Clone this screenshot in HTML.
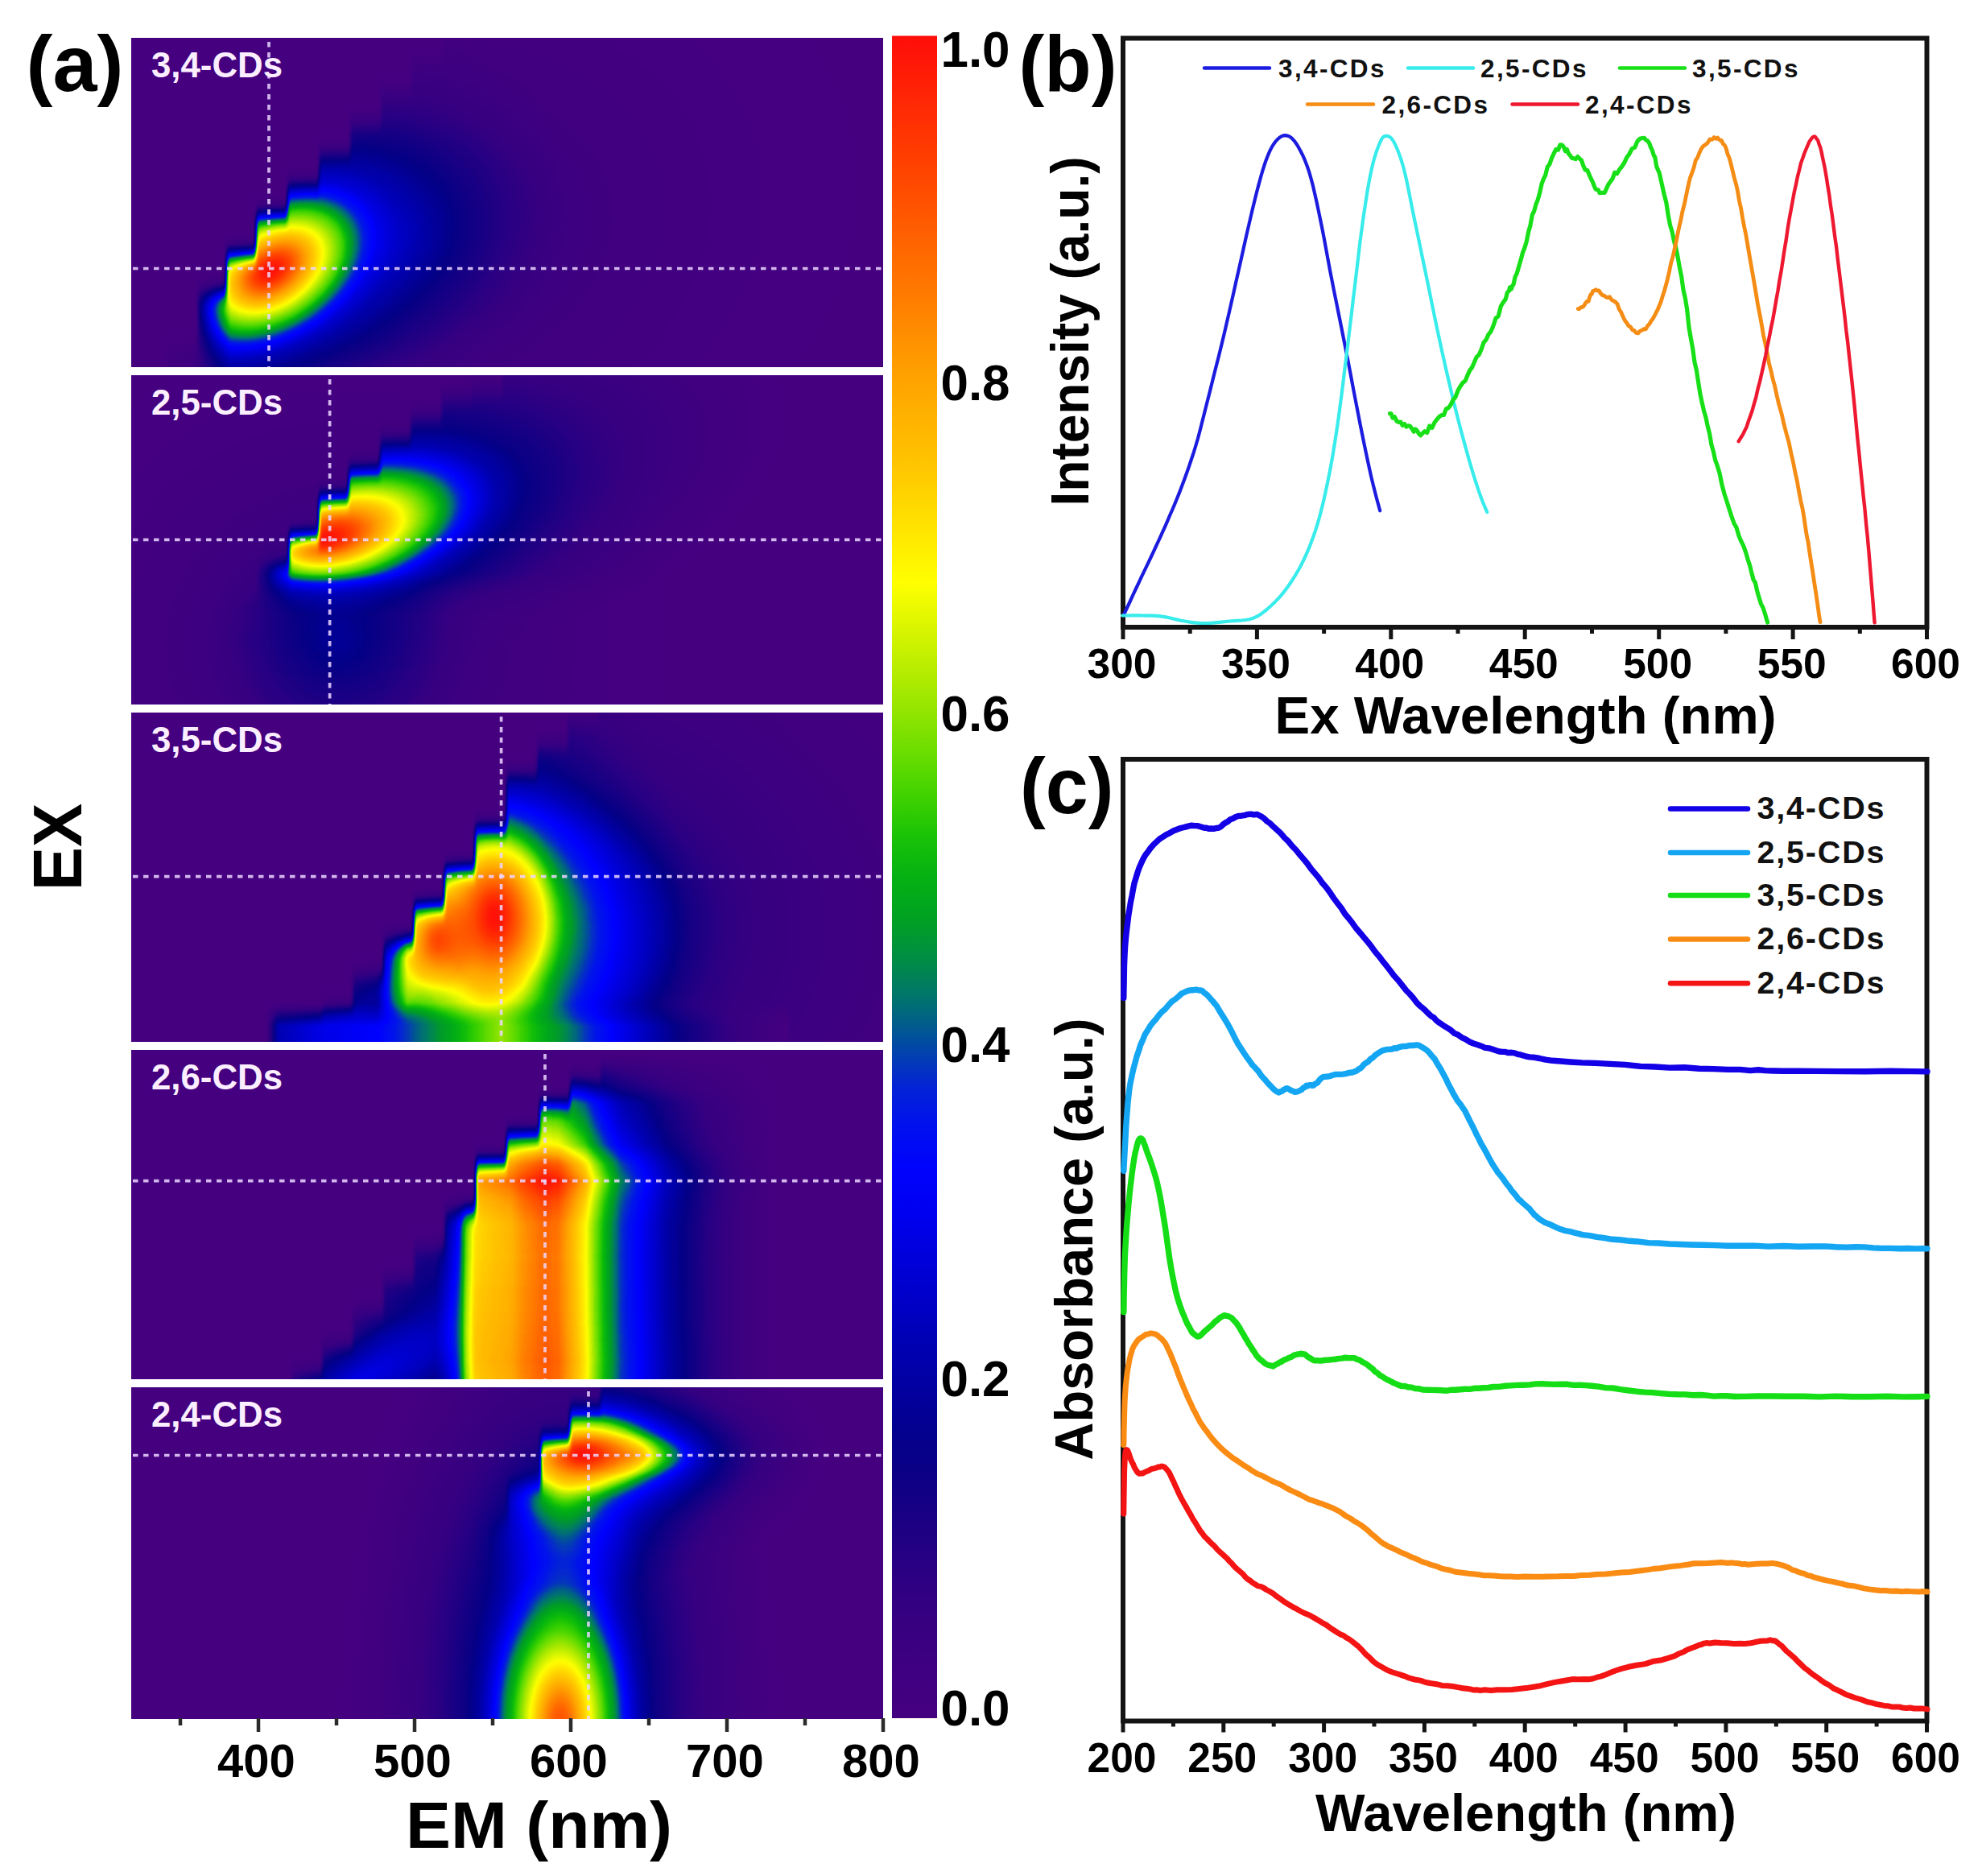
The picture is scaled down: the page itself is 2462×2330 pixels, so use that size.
<!DOCTYPE html>
<html lang="en"><head><meta charset="utf-8"><title>Figure: EEM maps, excitation and absorbance spectra of CDs</title>
<style>html,body{margin:0;padding:0;background:#fff}svg{display:block}text{font-family:"Liberation Sans", Arial, Helvetica, sans-serif}</style>
</head><body>
<svg width="2462" height="2330" viewBox="0 0 2462 2330">
<rect width="2462" height="2330" fill="#fff"/>
<defs>
<filter id="cm" x="0" y="0" width="1" height="1" filterUnits="objectBoundingBox" color-interpolation-filters="sRGB">
<feGaussianBlur stdDeviation="1.6 1.6"/>
<feComponentTransfer>
<feFuncR type="table" tableValues="0.271 0.261 0.252 0.242 0.232 0.223 0.213 0.204 0.183 0.162 0.141 0.120 0.099 0.078 0.058 0.037 0.016 0.013 0.011 0.009 0.007 0.004 0.002 0.000 0.000 0.000 0.000 0.000 0.000 0.000 0.000 0.000 0.000 0.000 0.000 0.000 0.000 0.008 0.016 0.016 0.010 0.003 0.000 0.000 0.000 0.000 0.000 0.000 0.000 0.000 0.019 0.038 0.077 0.137 0.198 0.261 0.327 0.392 0.456 0.520 0.583 0.647 0.701 0.756 0.810 0.864 0.919 0.973 1.000 1.000 1.000 1.000 1.000 1.000 1.000 1.000 1.000 1.000 1.000 1.000 1.000 1.000 1.000 1.000 1.000 1.000 1.000 1.000 1.000 1.000 1.000 1.000 1.000 1.000 1.000 1.000 1.000 1.000 1.000 1.000 1.000"/>
<feFuncG type="table" tableValues="0.000 0.000 0.000 0.000 0.000 0.000 0.000 0.000 0.000 0.000 0.000 0.000 0.000 0.000 0.000 0.000 0.000 0.000 0.000 0.000 0.000 0.000 0.000 0.000 0.000 0.000 0.000 0.000 0.000 0.000 0.000 0.000 0.000 0.020 0.039 0.059 0.078 0.118 0.157 0.212 0.284 0.356 0.416 0.463 0.510 0.549 0.588 0.620 0.643 0.667 0.695 0.723 0.751 0.779 0.807 0.828 0.845 0.863 0.875 0.886 0.898 0.910 0.924 0.938 0.951 0.965 0.979 0.993 0.983 0.950 0.917 0.884 0.851 0.817 0.784 0.758 0.732 0.706 0.680 0.654 0.627 0.596 0.565 0.533 0.502 0.471 0.439 0.410 0.381 0.352 0.323 0.294 0.264 0.235 0.210 0.184 0.158 0.132 0.106 0.081 0.055"/>
<feFuncB type="table" tableValues="0.502 0.503 0.504 0.505 0.506 0.508 0.509 0.510 0.512 0.513 0.515 0.517 0.519 0.520 0.522 0.524 0.525 0.554 0.583 0.611 0.640 0.668 0.697 0.725 0.756 0.786 0.817 0.847 0.878 0.908 0.939 0.969 1.000 0.980 0.961 0.941 0.922 0.867 0.812 0.739 0.647 0.556 0.478 0.416 0.353 0.275 0.196 0.145 0.122 0.098 0.075 0.051 0.032 0.018 0.004 0.000 0.000 0.000 0.000 0.000 0.000 0.000 0.000 0.000 0.000 0.000 0.000 0.000 0.000 0.000 0.000 0.000 0.000 0.000 0.000 0.000 0.000 0.000 0.000 0.000 0.000 0.000 0.000 0.000 0.000 0.000 0.000 0.000 0.000 0.000 0.000 0.000 0.000 0.000 0.006 0.011 0.017 0.022 0.028 0.034 0.039"/>
<feFuncA type="linear" slope="0" intercept="1"/>
</feComponentTransfer></filter>
<filter id="vb" x="-0.1" y="-0.2" width="1.2" height="1.4" color-interpolation-filters="sRGB"><feGaussianBlur stdDeviation="1.5 11"/></filter>
<radialGradient id="g"><stop offset="0.0000" stop-color="#fff" stop-opacity="1.0"/><stop offset="0.0333" stop-color="#fff" stop-opacity="0.975"/><stop offset="0.0667" stop-color="#fff" stop-opacity="0.91"/><stop offset="0.1083" stop-color="#fff" stop-opacity="0.81"/><stop offset="0.1667" stop-color="#fff" stop-opacity="0.675"/><stop offset="0.2083" stop-color="#fff" stop-opacity="0.58"/><stop offset="0.2467" stop-color="#fff" stop-opacity="0.5"/><stop offset="0.2833" stop-color="#fff" stop-opacity="0.39"/><stop offset="0.3167" stop-color="#fff" stop-opacity="0.3"/><stop offset="0.3667" stop-color="#fff" stop-opacity="0.21"/><stop offset="0.4333" stop-color="#fff" stop-opacity="0.15"/><stop offset="0.5333" stop-color="#fff" stop-opacity="0.1"/><stop offset="0.6667" stop-color="#fff" stop-opacity="0.055"/><stop offset="0.8333" stop-color="#fff" stop-opacity="0.02"/><stop offset="1.0000" stop-color="#fff" stop-opacity="0.0"/></radialGradient>
<linearGradient id="cbar" x1="0" y1="0" x2="0" y2="1"><stop offset="0.000" stop-color="#ff0e0a"/><stop offset="0.025" stop-color="#ff1e06"/><stop offset="0.050" stop-color="#ff2f03"/><stop offset="0.075" stop-color="#ff4000"/><stop offset="0.100" stop-color="#ff5200"/><stop offset="0.125" stop-color="#ff6500"/><stop offset="0.150" stop-color="#ff7800"/><stop offset="0.175" stop-color="#ff8c00"/><stop offset="0.200" stop-color="#ffa000"/><stop offset="0.225" stop-color="#ffb100"/><stop offset="0.250" stop-color="#ffc100"/><stop offset="0.275" stop-color="#ffd500"/><stop offset="0.300" stop-color="#ffea00"/><stop offset="0.325" stop-color="#ffff00"/><stop offset="0.350" stop-color="#dcf600"/><stop offset="0.375" stop-color="#baed00"/><stop offset="0.400" stop-color="#95e500"/><stop offset="0.425" stop-color="#6cde00"/><stop offset="0.450" stop-color="#43d300"/><stop offset="0.475" stop-color="#1bc306"/><stop offset="0.500" stop-color="#05b113"/><stop offset="0.525" stop-color="#00a122"/><stop offset="0.550" stop-color="#008c46"/><stop offset="0.575" stop-color="#007072"/><stop offset="0.600" stop-color="#0249a5"/><stop offset="0.625" stop-color="#0323d6"/><stop offset="0.650" stop-color="#000ff0"/><stop offset="0.675" stop-color="#0002fd"/><stop offset="0.700" stop-color="#0000ef"/><stop offset="0.725" stop-color="#0000dc"/><stop offset="0.750" stop-color="#0000c9"/><stop offset="0.775" stop-color="#0000b5"/><stop offset="0.800" stop-color="#0200a3"/><stop offset="0.825" stop-color="#030091"/><stop offset="0.850" stop-color="#090086"/><stop offset="0.875" stop-color="#170084"/><stop offset="0.900" stop-color="#240083"/><stop offset="0.925" stop-color="#310082"/><stop offset="0.950" stop-color="#390081"/><stop offset="0.975" stop-color="#3f0081"/><stop offset="1.000" stop-color="#450080"/></linearGradient>
</defs>
<clipPath id="pc0"><rect x="163" y="47" width="934" height="409"/></clipPath>
<linearGradient id="rp0" gradientUnits="userSpaceOnUse" x1="238" y1="0" x2="286" y2="0"><stop offset="0" stop-color="#000" stop-opacity="0.850"/><stop offset="0.5" stop-color="#000" stop-opacity="0.383"/><stop offset="1" stop-color="#000" stop-opacity="0"/></linearGradient>
<mask id="sm0" maskUnits="userSpaceOnUse" x="63" y="-53" width="1134" height="609"><polygon points="207,536 207,432 245,432 245,364 281,364 281,316 318,316 318,266 357,266 357,228 396,228 396,188 435,188 435,150 473,150 473,112 511,112 511,74 549,74 549,42 587,42 587,-33 1177,-33 1177,536" fill="#fff" filter="url(#vb)"/><rect x="63" y="-53" width="223" height="609" fill="url(#rp0)"/></mask>
<g clip-path="url(#pc0)"><g filter="url(#cm)">
<rect x="143" y="27" width="974" height="449" fill="#000"/>
<g mask="url(#sm0)">
<ellipse cx="500" cy="300" rx="660.0" ry="480.0" fill="url(#g)" fill-opacity="0.12" transform="rotate(-15 500 300)"/>
<radialGradient id="g1" href="#g" fx="0.4867" fy="0.4880"/><ellipse cx="348" cy="335" rx="390.0" ry="252.0" fill="url(#g1)" fill-opacity="1.0" transform="rotate(-35 348 335)"/>
</g>
</g></g>
<clipPath id="pc1"><rect x="163" y="466" width="934" height="409"/></clipPath>
<linearGradient id="rp1" gradientUnits="userSpaceOnUse" x1="325" y1="0" x2="362" y2="0"><stop offset="0" stop-color="#000" stop-opacity="0.750"/><stop offset="0.5" stop-color="#000" stop-opacity="0.338"/><stop offset="1" stop-color="#000" stop-opacity="0"/></linearGradient>
<linearGradient id="vr1" gradientUnits="userSpaceOnUse" x1="0" y1="712" x2="0" y2="765"><stop offset="0" stop-color="#000" stop-opacity="0"/><stop offset="0.5" stop-color="#000" stop-opacity="0.385"/><stop offset="1" stop-color="#000" stop-opacity="0.700"/></linearGradient>
<mask id="sm1" maskUnits="userSpaceOnUse" x="63" y="366" width="1134" height="609"><polygon points="283,955 283,752 321,752 321,707 359,707 359,668 396,668 396,618 433,618 433,581 472,581 472,544 510,544 510,517 548,517 548,490 586,490 586,482 624,482 624,386 1177,386 1177,955" fill="#fff" filter="url(#vb)"/><rect x="63" y="366" width="299" height="609" fill="url(#rp1)"/><rect x="63" y="712" width="1134" height="263" fill="url(#vr1)"/></mask>
<g clip-path="url(#pc1)"><g filter="url(#cm)">
<rect x="143" y="446" width="974" height="449" fill="#000"/>
<g mask="url(#sm1)">
<radialGradient id="g2" href="#g" fx="0.3379" fy="0.5743"/><ellipse cx="536" cy="600" rx="456.0" ry="228.0" fill="url(#g2)" fill-opacity="1.0" transform="rotate(-15 536 600)"/>
</g>
<ellipse cx="420" cy="800" rx="450.0" ry="420.0" fill="url(#g)" fill-opacity="0.17"/>
</g></g>
<clipPath id="pc2"><rect x="163" y="885" width="934" height="409"/></clipPath>
<linearGradient id="rp2" gradientUnits="userSpaceOnUse" x1="468" y1="0" x2="506" y2="0"><stop offset="0" stop-color="#000" stop-opacity="0.700"/><stop offset="0.5" stop-color="#000" stop-opacity="0.315"/><stop offset="1" stop-color="#000" stop-opacity="0"/></linearGradient>
<mask id="sm2" maskUnits="userSpaceOnUse" x="63" y="785" width="1134" height="609"><polygon points="324,1374 324,1322 362,1322 362,1287 400,1287 400,1251 438,1251 438,1210 476,1210 476,1169 514,1169 514,1126 552,1126 552,1080 590,1080 590,1028 629,1028 629,960 667,960 667,924 705,924 705,892 743,892 743,805 1177,805 1177,1374" fill="#fff" filter="url(#vb)"/><rect x="63" y="785" width="443" height="609" fill="url(#rp2)"/></mask>
<g clip-path="url(#pc2)"><g filter="url(#cm)">
<rect x="143" y="865" width="974" height="449" fill="#000"/>
<g mask="url(#sm2)">
<ellipse cx="644" cy="1150" rx="690.0" ry="528.0" fill="url(#g)" fill-opacity="0.4"/>
<ellipse cx="600" cy="1258" rx="330.0" ry="168.0" fill="url(#g)" fill-opacity="0.3"/>
<ellipse cx="440" cy="1262" rx="420.0" ry="144.0" fill="url(#g)" fill-opacity="0.55" transform="rotate(-40 440 1262)"/>
<radialGradient id="g3" href="#g" fx="0.5000" fy="0.4892"/><ellipse cx="615" cy="1146" rx="240.0" ry="372.0" fill="url(#g3)" fill-opacity="1.0"/>
<ellipse cx="543" cy="1168" rx="156.0" ry="204.0" fill="url(#g)" fill-opacity="0.8"/>
</g>
<linearGradient id="band3" gradientUnits="userSpaceOnUse" x1="330" y1="0" x2="980" y2="0"><stop offset="0.0000" stop-color="rgb(0,0,0)"/><stop offset="0.0231" stop-color="rgb(56,56,56)"/><stop offset="0.1077" stop-color="rgb(74,74,74)"/><stop offset="0.2154" stop-color="rgb(82,82,82)"/><stop offset="0.2615" stop-color="rgb(97,97,97)"/><stop offset="0.3231" stop-color="rgb(115,115,115)"/><stop offset="0.3846" stop-color="rgb(133,133,133)"/><stop offset="0.4508" stop-color="rgb(153,153,153)"/><stop offset="0.5077" stop-color="rgb(133,133,133)"/><stop offset="0.5692" stop-color="rgb(115,115,115)"/><stop offset="0.6308" stop-color="rgb(92,92,92)"/><stop offset="0.7077" stop-color="rgb(66,66,66)"/><stop offset="0.8000" stop-color="rgb(36,36,36)"/><stop offset="0.9077" stop-color="rgb(13,13,13)"/><stop offset="1.0000" stop-color="rgb(0,0,0)"/></linearGradient><linearGradient id="fb3" gradientUnits="userSpaceOnUse" x1="0" y1="1246" x2="0" y2="1274"><stop offset="0" stop-color="#fff" stop-opacity="0"/><stop offset="1" stop-color="#fff" stop-opacity="1"/></linearGradient><mask id="mfb3" maskUnits="userSpaceOnUse" x="100" y="1240" width="1100" height="80" style="mask-type:alpha"><rect x="100" y="1240" width="1100" height="80" fill="url(#fb3)"/></mask><g mask="url(#mfb3)"><rect x="330" y="1240" width="650" height="80" fill="url(#band3)"/></g>
</g></g>
<clipPath id="pc3"><rect x="163" y="1304" width="934" height="409"/></clipPath>
<mask id="sm3" maskUnits="userSpaceOnUse" x="63" y="1204" width="1134" height="609"><polygon points="324,1793 324,1737 362,1737 362,1702 400,1702 400,1667 438,1667 438,1627 476,1627 476,1587 514,1587 514,1547 552,1547 552,1504 591,1504 591,1444 629,1444 629,1409 670,1409 670,1370 708,1370 708,1338 746,1338 746,1224 1177,1224 1177,1793" fill="#fff" filter="url(#vb)"/></mask>
<g clip-path="url(#pc3)"><g filter="url(#cm)">
<rect x="143" y="1284" width="974" height="449" fill="#000"/>
<g mask="url(#sm3)">
<ellipse cx="440" cy="1718" rx="420.0" ry="168.0" fill="url(#g)" fill-opacity="0.26" transform="rotate(-30 440 1718)"/>
<ellipse cx="560" cy="1640" rx="360.0" ry="540.0" fill="url(#g)" fill-opacity="0.16"/>
<linearGradient id="col4" gradientUnits="userSpaceOnUse" x1="540" y1="0" x2="965" y2="0"><stop offset="0.0000" stop-color="#fff" stop-opacity="0"/><stop offset="0.0282" stop-color="#fff" stop-opacity="0.09"/><stop offset="0.0588" stop-color="#fff" stop-opacity="0.23"/><stop offset="0.0753" stop-color="#fff" stop-opacity="0.35"/><stop offset="0.0894" stop-color="#fff" stop-opacity="0.58"/><stop offset="0.1176" stop-color="#fff" stop-opacity="0.785"/><stop offset="0.1459" stop-color="#fff" stop-opacity="0.815"/><stop offset="0.2212" stop-color="#fff" stop-opacity="0.866"/><stop offset="0.2588" stop-color="#fff" stop-opacity="0.93"/><stop offset="0.3106" stop-color="#fff" stop-opacity="0.99"/><stop offset="0.3294" stop-color="#fff" stop-opacity="1.0"/><stop offset="0.3624" stop-color="#fff" stop-opacity="0.977"/><stop offset="0.4000" stop-color="#fff" stop-opacity="0.885"/><stop offset="0.4400" stop-color="#fff" stop-opacity="0.785"/><stop offset="0.4659" stop-color="#fff" stop-opacity="0.675"/><stop offset="0.4941" stop-color="#fff" stop-opacity="0.58"/><stop offset="0.5435" stop-color="#fff" stop-opacity="0.44"/><stop offset="0.6047" stop-color="#fff" stop-opacity="0.35"/><stop offset="0.6824" stop-color="#fff" stop-opacity="0.23"/><stop offset="0.7906" stop-color="#fff" stop-opacity="0.116"/><stop offset="0.9059" stop-color="#fff" stop-opacity="0.035"/><stop offset="1.0000" stop-color="#fff" stop-opacity="0"/></linearGradient><linearGradient id="ft4" gradientUnits="userSpaceOnUse" x1="0" y1="1310" x2="0" y2="1720"><stop offset="0.0000" stop-color="#fff" stop-opacity="0"/><stop offset="0.0439" stop-color="#fff" stop-opacity="0.15"/><stop offset="0.1000" stop-color="#fff" stop-opacity="0.3"/><stop offset="0.1463" stop-color="#fff" stop-opacity="0.51"/><stop offset="0.2195" stop-color="#fff" stop-opacity="0.6"/><stop offset="0.2732" stop-color="#fff" stop-opacity="0.69"/><stop offset="0.3293" stop-color="#fff" stop-opacity="0.9"/><stop offset="0.3829" stop-color="#fff" stop-opacity="1.0"/><stop offset="0.4390" stop-color="#fff" stop-opacity="0.93"/><stop offset="0.5122" stop-color="#fff" stop-opacity="0.87"/><stop offset="0.6098" stop-color="#fff" stop-opacity="0.86"/><stop offset="0.8049" stop-color="#fff" stop-opacity="0.87"/><stop offset="0.9268" stop-color="#fff" stop-opacity="0.89"/><stop offset="1.0000" stop-color="#fff" stop-opacity="0.88"/></linearGradient><mask id="mft4" maskUnits="userSpaceOnUse" x="500" y="1290" width="500" height="450" style="mask-type:alpha"><rect x="500" y="1290" width="500" height="450" fill="url(#ft4)"/></mask><g mask="url(#mft4)"><rect x="540" y="1290" width="425" height="450" fill="url(#col4)"/></g>
</g>
</g></g>
<clipPath id="pc4"><rect x="163" y="1723" width="934" height="412"/></clipPath>
<linearGradient id="rp4" gradientUnits="userSpaceOnUse" x1="600" y1="0" x2="665" y2="0"><stop offset="0" stop-color="#000" stop-opacity="0.800"/><stop offset="0.5" stop-color="#000" stop-opacity="0.360"/><stop offset="1" stop-color="#000" stop-opacity="0"/></linearGradient>
<mask id="sm4" maskUnits="userSpaceOnUse" x="63" y="1623" width="1134" height="612"><polygon points="555,2215 555,1937 593,1937 593,1892 631,1892 631,1849 672,1849 672,1789 708,1789 708,1746 746,1746 746,1712 784,1712 784,1643 1177,1643 1177,2215" fill="#fff" filter="url(#vb)"/><rect x="63" y="1623" width="602" height="612" fill="url(#rp4)"/></mask>
<g clip-path="url(#pc4)"><g filter="url(#cm)">
<rect x="143" y="1703" width="974" height="452" fill="#000"/>
<g mask="url(#sm4)">
<ellipse cx="700" cy="1852" rx="168.0" ry="180.0" fill="url(#g)" fill-opacity="0.28"/>
<ellipse cx="782" cy="1808" rx="240.0" ry="84.0" fill="url(#g)" fill-opacity="0.5"/>
<radialGradient id="g4" href="#g" fx="0.4933" fy="0.5000"/><ellipse cx="728" cy="1806" rx="300.0" ry="162.0" fill="url(#g4)" fill-opacity="1.0"/>
</g>
<ellipse cx="702" cy="1915" rx="270.0" ry="360.0" fill="url(#g)" fill-opacity="0.2"/>
<ellipse cx="696" cy="2140" rx="276.0" ry="552.0" fill="url(#g)" fill-opacity="0.9"/>
</g></g>
<g stroke="#ecd6ff" stroke-opacity="0.85" stroke-width="3.7" stroke-dasharray="6.5 6.5" fill="none"><line x1="334" y1="52" x2="334" y2="456"/><line x1="165" y1="333.5" x2="1097" y2="333.5"/></g>
<text x="188" y="96" font-size="44.5" font-weight="bold" text-anchor="start" fill="#fbeeff" textLength="163" lengthAdjust="spacingAndGlyphs">3,4-CDs</text>
<g stroke="#ecd6ff" stroke-opacity="0.85" stroke-width="3.7" stroke-dasharray="6.5 6.5" fill="none"><line x1="409.6" y1="471" x2="409.6" y2="875"/><line x1="165" y1="670.4" x2="1097" y2="670.4"/></g>
<text x="188" y="515" font-size="44.5" font-weight="bold" text-anchor="start" fill="#fbeeff" textLength="163" lengthAdjust="spacingAndGlyphs">2,5-CDs</text>
<g stroke="#ecd6ff" stroke-opacity="0.85" stroke-width="3.7" stroke-dasharray="6.5 6.5" fill="none"><line x1="622.6" y1="890" x2="622.6" y2="1294"/><line x1="165" y1="1088.7" x2="1097" y2="1088.7"/></g>
<text x="188" y="934" font-size="44.5" font-weight="bold" text-anchor="start" fill="#fbeeff" textLength="163" lengthAdjust="spacingAndGlyphs">3,5-CDs</text>
<g stroke="#ecd6ff" stroke-opacity="0.85" stroke-width="3.7" stroke-dasharray="6.5 6.5" fill="none"><line x1="677" y1="1309" x2="677" y2="1713"/><line x1="165" y1="1466.7" x2="1097" y2="1466.7"/></g>
<text x="188" y="1353" font-size="44.5" font-weight="bold" text-anchor="start" fill="#fbeeff" textLength="163" lengthAdjust="spacingAndGlyphs">2,6-CDs</text>
<g stroke="#ecd6ff" stroke-opacity="0.85" stroke-width="3.7" stroke-dasharray="6.5 6.5" fill="none"><line x1="731" y1="1728" x2="731" y2="2135"/><line x1="165" y1="1807.5" x2="1097" y2="1807.5"/></g>
<text x="188" y="1772" font-size="44.5" font-weight="bold" text-anchor="start" fill="#fbeeff" textLength="163" lengthAdjust="spacingAndGlyphs">2,4-CDs</text>
<line x1="224.0" y1="2134" x2="224.0" y2="2143" stroke="#2b2b2b" stroke-width="4.5"/>
<line x1="321.0" y1="2134" x2="321.0" y2="2151" stroke="#2b2b2b" stroke-width="4.5"/>
<text x="318.5" y="2207" font-size="58" font-weight="bold" text-anchor="middle" fill="#000" >400</text>
<line x1="418.0" y1="2134" x2="418.0" y2="2143" stroke="#2b2b2b" stroke-width="4.5"/>
<line x1="515.0" y1="2134" x2="515.0" y2="2151" stroke="#2b2b2b" stroke-width="4.5"/>
<text x="512.5" y="2207" font-size="58" font-weight="bold" text-anchor="middle" fill="#000" >500</text>
<line x1="612.0" y1="2134" x2="612.0" y2="2143" stroke="#2b2b2b" stroke-width="4.5"/>
<line x1="709.0" y1="2134" x2="709.0" y2="2151" stroke="#2b2b2b" stroke-width="4.5"/>
<text x="706.5" y="2207" font-size="58" font-weight="bold" text-anchor="middle" fill="#000" >600</text>
<line x1="806.0" y1="2134" x2="806.0" y2="2143" stroke="#2b2b2b" stroke-width="4.5"/>
<line x1="903.0" y1="2134" x2="903.0" y2="2151" stroke="#2b2b2b" stroke-width="4.5"/>
<text x="900.5" y="2207" font-size="58" font-weight="bold" text-anchor="middle" fill="#000" >700</text>
<line x1="1000.0" y1="2134" x2="1000.0" y2="2143" stroke="#2b2b2b" stroke-width="4.5"/>
<line x1="1097.0" y1="2134" x2="1097.0" y2="2151" stroke="#2b2b2b" stroke-width="4.5"/>
<text x="1094.5" y="2207" font-size="58" font-weight="bold" text-anchor="middle" fill="#000" >800</text>
<text x="669.5" y="2294.5" font-size="82" font-weight="bold" text-anchor="middle" fill="#000" textLength="331" lengthAdjust="spacingAndGlyphs">EM (nm)</text>
<text transform="translate(100.5 1052) rotate(-90)" font-size="86" font-weight="bold" text-anchor="middle" textLength="108.5" lengthAdjust="spacingAndGlyphs">EX</text>
<text x="32.5" y="113" font-size="98" font-weight="bold" text-anchor="start" fill="#000" textLength="121" lengthAdjust="spacingAndGlyphs">(a)</text>
<rect x="1108" y="44.5" width="56" height="2089.5" fill="url(#cbar)"/>
<text x="1168.5" y="83" font-size="62.5" font-weight="bold" text-anchor="start" fill="#000" textLength="86" lengthAdjust="spacingAndGlyphs">1.0</text>
<text x="1168.5" y="496.5" font-size="62.5" font-weight="bold" text-anchor="start" fill="#000" textLength="86" lengthAdjust="spacingAndGlyphs">0.8</text>
<text x="1168.5" y="908" font-size="62.5" font-weight="bold" text-anchor="start" fill="#000" textLength="86" lengthAdjust="spacingAndGlyphs">0.6</text>
<text x="1168.5" y="1318.5" font-size="62.5" font-weight="bold" text-anchor="start" fill="#000" textLength="86" lengthAdjust="spacingAndGlyphs">0.4</text>
<text x="1168.5" y="1733.5" font-size="62.5" font-weight="bold" text-anchor="start" fill="#000" textLength="86" lengthAdjust="spacingAndGlyphs">0.2</text>
<text x="1168.5" y="2143" font-size="62.5" font-weight="bold" text-anchor="start" fill="#000" textLength="86" lengthAdjust="spacingAndGlyphs">0.0</text>
<rect x="1395" y="47.5" width="998.5" height="731.5" fill="none" stroke="#141414" stroke-width="6"/>
<line x1="1395.0" y1="779" x2="1395.0" y2="794" stroke="#141414" stroke-width="5"/>
<text x="1393.5" y="842" font-size="51.5" font-weight="bold" text-anchor="middle" fill="#000" >300</text>
<line x1="1478.2" y1="779" x2="1478.2" y2="787" stroke="#141414" stroke-width="5"/>
<line x1="1561.4" y1="779" x2="1561.4" y2="794" stroke="#141414" stroke-width="5"/>
<text x="1559.9" y="842" font-size="51.5" font-weight="bold" text-anchor="middle" fill="#000" >350</text>
<line x1="1644.6" y1="779" x2="1644.6" y2="787" stroke="#141414" stroke-width="5"/>
<line x1="1727.8" y1="779" x2="1727.8" y2="794" stroke="#141414" stroke-width="5"/>
<text x="1726.3" y="842" font-size="51.5" font-weight="bold" text-anchor="middle" fill="#000" >400</text>
<line x1="1811.0" y1="779" x2="1811.0" y2="787" stroke="#141414" stroke-width="5"/>
<line x1="1894.2" y1="779" x2="1894.2" y2="794" stroke="#141414" stroke-width="5"/>
<text x="1892.8" y="842" font-size="51.5" font-weight="bold" text-anchor="middle" fill="#000" >450</text>
<line x1="1977.5" y1="779" x2="1977.5" y2="787" stroke="#141414" stroke-width="5"/>
<line x1="2060.7" y1="779" x2="2060.7" y2="794" stroke="#141414" stroke-width="5"/>
<text x="2059.2" y="842" font-size="51.5" font-weight="bold" text-anchor="middle" fill="#000" >500</text>
<line x1="2143.9" y1="779" x2="2143.9" y2="787" stroke="#141414" stroke-width="5"/>
<line x1="2227.1" y1="779" x2="2227.1" y2="794" stroke="#141414" stroke-width="5"/>
<text x="2225.6" y="842" font-size="51.5" font-weight="bold" text-anchor="middle" fill="#000" >550</text>
<line x1="2310.3" y1="779" x2="2310.3" y2="787" stroke="#141414" stroke-width="5"/>
<line x1="2393.5" y1="779" x2="2393.5" y2="794" stroke="#141414" stroke-width="5"/>
<text x="2392.0" y="842" font-size="51.5" font-weight="bold" text-anchor="middle" fill="#000" >600</text>
<text x="1895" y="911" font-size="64" font-weight="bold" text-anchor="middle" fill="#000" textLength="623" lengthAdjust="spacingAndGlyphs">Ex Wavelength (nm)</text>
<text transform="translate(1352 411.5) rotate(-90)" font-size="67" font-weight="bold" text-anchor="middle" textLength="434" lengthAdjust="spacingAndGlyphs">Intensity (a.u.)</text>
<text x="1265.5" y="113" font-size="98" font-weight="bold" text-anchor="start" fill="#000" textLength="122" lengthAdjust="spacingAndGlyphs">(b)</text>
<polyline points="1395.8,764.0 1397.9,759.4 1400.9,753.0 1404.4,745.5 1408.1,737.4 1411.8,729.5 1415.2,722.3 1418.2,715.9 1421.2,709.7 1424.1,703.6 1427.0,697.6 1429.9,691.5 1432.8,685.3 1435.7,679.0 1438.7,672.7 1441.6,666.3 1444.5,659.9 1447.5,653.3 1450.4,646.6 1453.3,639.8 1456.3,633.0 1459.2,626.1 1462.1,619.0 1465.1,611.6 1468.0,604.0 1471.0,596.0 1474.0,587.7 1477.0,579.2 1479.9,570.5 1482.8,561.8 1485.5,553.0 1488.0,544.5 1490.2,536.3 1492.3,528.0 1494.5,519.3 1496.9,509.7 1499.6,498.9 1502.8,486.5 1506.2,472.7 1509.9,458.1 1513.7,443.2 1517.3,428.4 1520.7,414.4 1523.8,401.1 1526.8,388.1 1529.7,375.3 1532.6,362.5 1535.4,349.8 1538.3,337.0 1541.3,323.8 1544.3,310.3 1547.3,296.8 1550.3,283.6 1553.2,271.1 1555.9,259.6 1558.5,249.1 1560.9,239.3 1563.3,230.1 1565.6,221.7 1567.8,213.9 1570.0,206.8 1572.1,200.5 1574.2,195.0 1576.2,190.1 1578.1,185.9 1580.2,182.1 1582.3,178.7 1584.5,175.7 1586.9,173.1 1589.2,171.0 1591.6,169.4 1594.0,168.4 1596.4,168.1 1598.7,168.4 1601.0,169.2 1603.3,170.5 1605.6,172.6 1608.0,175.3 1610.4,178.7 1613.0,182.9 1615.6,187.7 1618.4,193.2 1621.1,199.4 1623.7,206.3 1626.3,213.9 1628.7,222.3 1631.1,231.5 1633.4,241.4 1635.7,251.8 1638.0,262.6 1640.3,273.7 1642.6,285.0 1644.9,296.8 1647.1,308.9 1649.4,321.4 1651.8,334.3 1654.4,347.6 1657.1,361.4 1660.0,375.7 1663.0,390.5 1666.0,405.4 1669.0,420.5 1672.0,435.5 1675.0,450.8 1678.0,466.6 1681.0,482.6 1684.0,498.2 1686.9,513.1 1689.6,527.0 1692.2,539.9 1694.7,552.1 1697.1,563.6 1699.4,574.5 1701.6,584.6 1703.7,593.9 1705.8,602.6 1707.9,610.8 1709.8,618.3 1711.6,624.8 1713.1,630.2 1714.2,634.3" fill="none" stroke="#1c1ce0" stroke-width="4.2" stroke-linejoin="round" stroke-linecap="round" />
<polyline points="1394.0,764.5 1396.9,764.5 1400.8,764.5 1405.5,764.4 1410.6,764.4 1415.5,764.4 1420.0,764.5 1424.0,764.6 1427.8,764.6 1431.5,764.7 1435.3,764.8 1439.2,765.1 1443.3,765.6 1447.8,766.3 1452.5,767.3 1457.3,768.5 1462.2,769.6 1467.0,770.7 1471.5,771.5 1475.7,772.2 1479.7,772.8 1483.5,773.3 1487.4,773.7 1491.5,773.9 1496.0,774.0 1500.9,773.9 1506.2,773.6 1511.7,773.1 1517.2,772.6 1522.6,772.0 1527.8,771.5 1532.8,771.1 1537.7,770.8 1542.6,770.5 1547.3,770.0 1551.8,769.2 1556.0,768.0 1559.9,766.4 1563.5,764.4 1567.0,762.2 1570.3,759.7 1573.6,757.0 1577.0,754.0 1580.5,750.8 1584.0,747.4 1587.5,743.8 1591.0,739.9 1594.5,735.6 1598.0,731.0 1601.6,726.0 1605.2,720.6 1608.8,714.9 1612.4,708.8 1615.9,702.5 1619.2,695.9 1622.4,689.0 1625.5,681.9 1628.4,674.5 1631.3,666.7 1634.1,658.6 1636.8,650.0 1639.4,640.9 1641.9,631.3 1644.3,621.2 1646.6,611.0 1648.8,600.6 1650.9,590.3 1652.9,580.2 1654.7,570.1 1656.4,560.0 1658.1,549.5 1659.8,538.6 1661.5,527.0 1663.3,514.6 1665.0,501.6 1666.8,488.0 1668.5,474.2 1670.2,460.1 1672.0,446.0 1673.8,431.7 1675.5,417.0 1677.3,402.2 1679.1,387.3 1680.8,372.5 1682.6,358.0 1684.3,343.5 1686.1,328.8 1687.8,314.3 1689.5,300.1 1691.3,286.5 1693.0,273.7 1694.8,261.6 1696.6,249.9 1698.3,238.9 1700.1,228.5 1701.9,219.0 1703.7,210.4 1705.5,202.8 1707.3,196.1 1709.1,190.3 1710.9,185.2 1712.6,180.8 1714.2,177.0 1715.6,174.0 1716.9,171.8 1718.1,170.3 1719.4,169.4 1720.6,168.9 1722.0,168.8 1723.5,168.9 1725.0,169.4 1726.6,170.3 1728.3,171.8 1730.0,174.0 1731.8,177.0 1733.7,180.8 1735.7,185.3 1737.7,190.5 1739.8,196.4 1741.9,203.0 1744.0,210.4 1746.0,218.7 1748.1,228.1 1750.1,238.1 1752.2,248.6 1754.3,259.3 1756.5,270.0 1758.7,280.5 1760.9,291.1 1763.2,301.9 1765.5,313.1 1767.9,324.7 1770.5,337.0 1773.2,350.2 1776.1,364.1 1779.0,378.6 1782.0,393.2 1785.0,407.6 1788.0,421.5 1790.9,434.9 1793.9,448.2 1796.8,461.3 1799.8,474.1 1802.8,486.7 1805.7,498.9 1808.7,510.9 1811.7,522.7 1814.7,534.3 1817.7,545.4 1820.6,555.9 1823.3,565.7 1825.9,574.8 1828.4,583.3 1830.8,591.2 1833.1,598.5 1835.3,605.2 1837.4,611.4 1839.4,617.0 1841.3,622.1 1843.2,626.6 1844.8,630.4 1846.2,633.6 1847.2,636.0" fill="none" stroke="#38ecec" stroke-width="4.2" stroke-linejoin="round" stroke-linecap="round" />
<polyline points="1726.5,513.6 1728.0,513.9 1730.0,519.1 1732.4,517.7 1735.0,523.1 1737.6,524.3 1740.0,524.2 1742.3,528.4 1744.7,526.6 1747.0,530.1 1749.4,528.6 1751.7,529.5 1754.0,532.5 1756.2,536.2 1758.2,532.9 1760.2,534.8 1762.3,538.4 1764.6,540.8 1767.0,538.1 1769.7,535.7 1772.7,537.4 1775.8,529.0 1778.9,531.3 1782.0,524.7 1785.0,520.7 1787.9,517.5 1790.7,515.6 1793.5,515.5 1796.3,507.9 1799.1,506.6 1802.0,502.9 1805.0,496.7 1808.0,493.1 1811.0,485.0 1814.0,479.7 1817.0,475.4 1820.0,473.2 1822.9,466.2 1825.7,460.1 1828.5,456.4 1831.3,450.0 1834.1,443.4 1837.0,440.9 1839.9,434.5 1842.9,425.7 1846.0,421.8 1849.0,415.4 1852.0,411.6 1855.0,404.5 1858.1,395.1 1861.2,392.7 1864.4,380.2 1867.4,375.4 1870.2,371.6 1872.5,362.8 1874.3,361.6 1875.5,356.8 1876.5,359.6 1877.4,358.8 1878.5,355.4 1880.0,353.4 1882.0,344.1 1884.2,339.7 1886.6,331.2 1889.1,322.8 1891.6,313.5 1894.0,307.6 1896.3,299.7 1898.7,287.8 1901.0,279.8 1903.3,266.9 1905.7,262.2 1908.0,253.5 1910.3,247.9 1912.7,239.3 1915.0,228.6 1917.3,222.3 1919.7,217.6 1922.2,207.3 1924.8,204.2 1927.5,196.4 1930.2,190.5 1932.9,185.4 1935.5,186.2 1938.0,179.8 1940.2,180.1 1942.3,182.3 1944.3,187.7 1946.3,185.4 1948.3,190.5 1950.4,193.1 1952.6,196.4 1954.9,196.7 1957.3,197.5 1959.7,194.6 1962.0,196.9 1964.4,198.9 1966.8,205.9 1969.2,211.1 1971.7,211.3 1974.1,216.9 1976.4,222.3 1978.5,226.3 1980.4,231.2 1982.1,235.0 1983.8,235.6 1985.4,236.0 1987.1,239.7 1989.0,239.5 1991.1,239.4 1993.3,239.3 1995.5,234.2 1997.9,229.1 2000.4,225.6 2003.0,222.1 2005.7,214.3 2008.6,215.7 2011.5,210.7 2014.5,207.0 2017.6,202.3 2020.7,195.6 2023.9,191.3 2027.3,184.6 2030.7,183.2 2034.0,175.3 2037.2,172.2 2040.0,171.5 2042.5,171.4 2044.7,174.1 2046.7,174.9 2048.7,177.9 2050.5,182.9 2052.4,186.7 2054.2,192.8 2055.9,195.5 2057.6,206.3 2059.3,210.6 2061.1,214.4 2063.0,222.8 2065.1,232.3 2067.4,242.3 2069.8,251.5 2072.2,267.3 2074.6,279.7 2077.0,287.6 2079.3,298.8 2081.7,307.3 2084.0,318.6 2086.3,331.8 2088.7,343.5 2091.0,360.1 2093.3,370.1 2095.7,384.7 2098.0,406.7 2100.3,420.0 2102.7,433.1 2105.0,449.9 2107.3,459.7 2109.7,475.2 2112.0,489.8 2114.3,500.4 2116.6,510.4 2119.0,518.5 2121.3,529.7 2123.6,538.6 2125.9,552.3 2128.3,560.5 2130.7,571.7 2133.3,578.7 2136.1,588.1 2139.0,602.1 2142.0,613.5 2145.0,622.7 2148.0,632.2 2151.0,641.6 2154.0,650.0 2157.0,655.3 2160.0,665.4 2162.9,672.4 2165.8,678.1 2168.5,685.8 2171.1,694.8 2173.5,701.8 2175.8,711.5 2178.1,720.0 2180.4,723.6 2182.6,733.8 2185.0,741.9 2187.5,750.1 2190.0,754.8 2192.3,761.7 2194.2,768.4 2195.6,773.1" fill="none" stroke="#18e018" stroke-width="5.2" stroke-linejoin="round" stroke-linecap="round" />
<polyline points="1960.2,383.7 1961.5,383.8 1963.2,382.1 1965.3,381.4 1967.5,379.9 1969.6,376.3 1971.5,374.1 1973.1,374.3 1974.5,369.4 1975.8,366.0 1977.2,365.4 1978.7,361.3 1980.3,361.1 1982.1,359.8 1984.1,361.0 1986.1,360.9 1988.2,364.1 1990.4,366.6 1992.6,367.1 1994.8,368.9 1997.2,369.7 1999.5,368.8 2001.9,372.4 2004.3,373.6 2006.7,375.1 2009.0,377.5 2011.4,384.4 2013.7,387.7 2016.0,393.2 2018.4,398.0 2020.7,401.1 2023.0,404.8 2025.4,405.9 2027.7,409.7 2030.1,410.6 2032.4,413.5 2034.8,413.9 2037.2,411.1 2039.6,410.1 2042.0,408.6 2044.3,408.8 2046.7,404.5 2048.9,402.4 2051.1,398.5 2053.1,396.0 2055.2,392.2 2057.2,388.2 2059.2,384.5 2061.2,379.5 2063.2,374.8 2065.2,367.9 2067.2,362.0 2069.3,354.5 2071.3,347.1 2073.5,337.5 2075.7,326.6 2078.1,318.5 2080.4,307.9 2082.8,296.6 2085.2,284.5 2087.6,274.4 2090.0,262.3 2092.3,253.5 2094.7,242.1 2097.0,230.9 2099.4,220.8 2101.7,215.0 2104.0,208.3 2106.3,199.1 2108.6,195.9 2110.9,189.9 2113.3,184.8 2115.7,181.5 2118.3,179.9 2121.1,177.6 2123.9,173.0 2126.6,173.4 2129.2,170.6 2131.6,172.4 2133.6,171.1 2135.4,173.2 2137.0,174.5 2138.6,174.5 2140.2,178.6 2142.0,179.9 2144.0,183.8 2146.0,191.3 2148.1,196.1 2150.2,203.9 2152.3,212.5 2154.4,221.4 2156.5,228.6 2158.5,237.6 2160.6,250.2 2162.6,258.7 2164.7,271.4 2166.7,282.0 2168.7,291.3 2170.7,303.0 2172.7,314.8 2174.8,327.1 2176.9,339.1 2179.0,351.2 2181.2,364.0 2183.5,378.2 2185.9,390.2 2188.3,403.2 2190.6,417.0 2193.0,427.7 2195.3,439.2 2197.6,451.9 2199.9,460.7 2202.2,470.9 2204.6,479.4 2207.2,491.5 2210.0,503.4 2212.9,513.2 2216.0,526.9 2219.1,538.9 2222.0,549.0 2224.8,562.6 2227.4,573.9 2229.9,586.5 2232.3,597.4 2234.6,610.3 2236.8,622.0 2238.9,631.1 2240.8,642.0 2242.6,654.3 2244.3,665.3 2246.0,673.2 2247.6,684.5 2249.4,696.2 2251.4,708.3 2253.6,723.1 2255.9,738.0 2258.0,752.3 2259.7,765.0 2261.0,772.7" fill="none" stroke="#f58c14" stroke-width="4.8" stroke-linejoin="round" stroke-linecap="round" />
<polyline points="2159.7,548.2 2161.0,546.0 2162.8,543.0 2165.0,539.6 2167.3,534.8 2169.7,530.0 2172.0,522.7 2174.2,516.8 2176.5,510.2 2178.9,501.6 2181.3,493.3 2183.6,482.9 2186.0,474.0 2188.4,463.5 2190.7,453.3 2193.1,442.1 2195.4,429.7 2197.8,418.5 2200.0,407.0 2202.2,396.6 2204.3,384.9 2206.4,372.3 2208.4,361.6 2210.4,348.6 2212.5,337.2 2214.6,323.7 2216.6,310.1 2218.7,298.0 2220.7,283.6 2222.8,270.9 2224.8,260.4 2226.8,249.3 2228.9,238.0 2230.9,229.2 2232.9,219.4 2235.0,211.2 2237.0,202.8 2239.1,197.1 2241.3,190.5 2243.4,185.5 2245.5,180.7 2247.5,175.9 2249.4,173.2 2251.1,170.9 2252.6,169.8 2254.0,169.5 2255.4,170.6 2256.8,172.8 2258.2,174.4 2259.6,179.0 2261.1,182.9 2262.5,188.2 2263.9,195.3 2265.4,202.1 2267.0,210.1 2268.7,219.9 2270.4,231.0 2272.2,241.8 2274.0,255.7 2275.8,267.0 2277.6,281.1 2279.3,294.4 2281.1,306.7 2282.8,322.0 2284.5,335.6 2286.3,350.5 2288.0,364.2 2289.8,379.0 2291.6,394.0 2293.3,410.3 2295.1,424.4 2296.9,440.9 2298.7,457.4 2300.5,474.2 2302.2,490.6 2304.0,508.4 2305.7,526.6 2307.4,544.9 2309.2,561.6 2311.0,580.2 2312.8,597.8 2314.6,615.5 2316.4,631.8 2318.1,650.8 2319.8,667.0 2321.5,686.3 2323.2,707.0 2324.9,727.8 2326.4,745.7 2327.7,762.5 2328.6,773.4" fill="none" stroke="#ee1830" stroke-width="4.4" stroke-linejoin="round" stroke-linecap="round" />
<line x1="1496" y1="84.5" x2="1577" y2="84.5" stroke="#1c1ce0" stroke-width="4.5" stroke-linecap="round"/>
<text x="1588" y="96.0" font-size="31.5" font-weight="bold" text-anchor="start" fill="#111" textLength="131.5">3,4-CDs</text>
<line x1="1749" y1="84.5" x2="1830" y2="84.5" stroke="#38ecec" stroke-width="4.5" stroke-linecap="round"/>
<text x="1839" y="96.0" font-size="31.5" font-weight="bold" text-anchor="start" fill="#111" textLength="131.5">2,5-CDs</text>
<line x1="2012" y1="84.5" x2="2093" y2="84.5" stroke="#18e018" stroke-width="4.5" stroke-linecap="round"/>
<text x="2102" y="96.0" font-size="31.5" font-weight="bold" text-anchor="start" fill="#111" textLength="131.5">3,5-CDs</text>
<line x1="1624" y1="129.5" x2="1706" y2="129.5" stroke="#f58c14" stroke-width="4.5" stroke-linecap="round"/>
<text x="1716.5" y="141.0" font-size="31.5" font-weight="bold" text-anchor="start" fill="#111" textLength="131.5">2,6-CDs</text>
<line x1="1878.5" y1="129.5" x2="1960" y2="129.5" stroke="#ee1830" stroke-width="4.5" stroke-linecap="round"/>
<text x="1969" y="141.0" font-size="31.5" font-weight="bold" text-anchor="start" fill="#111" textLength="131.5">2,4-CDs</text>
<rect x="1395" y="943" width="998.5" height="1194.5" fill="none" stroke="#141414" stroke-width="6"/>
<line x1="1395.0" y1="2137.5" x2="1395.0" y2="2151.5" stroke="#141414" stroke-width="5"/>
<text x="1393.5" y="2200.5" font-size="51.5" font-weight="bold" text-anchor="middle" fill="#000" >200</text>
<line x1="1457.4" y1="2137.5" x2="1457.4" y2="2144.5" stroke="#141414" stroke-width="5"/>
<line x1="1519.8" y1="2137.5" x2="1519.8" y2="2151.5" stroke="#141414" stroke-width="5"/>
<text x="1518.3" y="2200.5" font-size="51.5" font-weight="bold" text-anchor="middle" fill="#000" >250</text>
<line x1="1582.2" y1="2137.5" x2="1582.2" y2="2144.5" stroke="#141414" stroke-width="5"/>
<line x1="1644.6" y1="2137.5" x2="1644.6" y2="2151.5" stroke="#141414" stroke-width="5"/>
<text x="1643.1" y="2200.5" font-size="51.5" font-weight="bold" text-anchor="middle" fill="#000" >300</text>
<line x1="1707.0" y1="2137.5" x2="1707.0" y2="2144.5" stroke="#141414" stroke-width="5"/>
<line x1="1769.4" y1="2137.5" x2="1769.4" y2="2151.5" stroke="#141414" stroke-width="5"/>
<text x="1767.9" y="2200.5" font-size="51.5" font-weight="bold" text-anchor="middle" fill="#000" >350</text>
<line x1="1831.8" y1="2137.5" x2="1831.8" y2="2144.5" stroke="#141414" stroke-width="5"/>
<line x1="1894.2" y1="2137.5" x2="1894.2" y2="2151.5" stroke="#141414" stroke-width="5"/>
<text x="1892.8" y="2200.5" font-size="51.5" font-weight="bold" text-anchor="middle" fill="#000" >400</text>
<line x1="1956.7" y1="2137.5" x2="1956.7" y2="2144.5" stroke="#141414" stroke-width="5"/>
<line x1="2019.1" y1="2137.5" x2="2019.1" y2="2151.5" stroke="#141414" stroke-width="5"/>
<text x="2017.6" y="2200.5" font-size="51.5" font-weight="bold" text-anchor="middle" fill="#000" >450</text>
<line x1="2081.5" y1="2137.5" x2="2081.5" y2="2144.5" stroke="#141414" stroke-width="5"/>
<line x1="2143.9" y1="2137.5" x2="2143.9" y2="2151.5" stroke="#141414" stroke-width="5"/>
<text x="2142.4" y="2200.5" font-size="51.5" font-weight="bold" text-anchor="middle" fill="#000" >500</text>
<line x1="2206.3" y1="2137.5" x2="2206.3" y2="2144.5" stroke="#141414" stroke-width="5"/>
<line x1="2268.7" y1="2137.5" x2="2268.7" y2="2151.5" stroke="#141414" stroke-width="5"/>
<text x="2267.2" y="2200.5" font-size="51.5" font-weight="bold" text-anchor="middle" fill="#000" >550</text>
<line x1="2331.1" y1="2137.5" x2="2331.1" y2="2144.5" stroke="#141414" stroke-width="5"/>
<line x1="2393.5" y1="2137.5" x2="2393.5" y2="2151.5" stroke="#141414" stroke-width="5"/>
<text x="2392.0" y="2200.5" font-size="51.5" font-weight="bold" text-anchor="middle" fill="#000" >600</text>
<text x="1895.5" y="2274" font-size="65" font-weight="bold" text-anchor="middle" fill="#000" textLength="523" lengthAdjust="spacingAndGlyphs">Wavelength (nm)</text>
<text transform="translate(1357 1539) rotate(-90)" font-size="67" font-weight="bold" text-anchor="middle" textLength="549" lengthAdjust="spacingAndGlyphs">Absorbance (a.u.)</text>
<text x="1267" y="1010" font-size="98" font-weight="bold" text-anchor="start" fill="#000" textLength="116.5" lengthAdjust="spacingAndGlyphs">(c)</text>
<polyline points="1395.8,1239.5 1395.9,1232.7 1396.1,1223.3 1396.3,1211.3 1396.5,1199.0 1397.0,1187.0 1397.6,1175.6 1398.4,1166.1 1399.4,1156.4 1400.6,1147.0 1401.8,1136.9 1403.2,1128.2 1404.6,1119.5 1406.1,1112.4 1407.5,1104.6 1409.1,1096.6 1410.9,1090.9 1412.8,1084.4 1415.0,1078.0 1417.5,1072.3 1420.1,1066.6 1423.0,1061.6 1426.1,1057.7 1429.4,1053.0 1432.8,1049.2 1436.5,1045.6 1440.4,1042.0 1444.6,1039.4 1448.8,1036.6 1453.1,1034.6 1457.4,1032.0 1461.9,1030.3 1466.6,1028.5 1471.4,1027.4 1476.0,1026.1 1480.2,1025.2 1483.8,1025.6 1486.6,1025.6 1488.7,1026.0 1490.4,1026.6 1492.1,1027.0 1493.8,1027.7 1496.0,1028.2 1498.6,1028.2 1501.5,1029.3 1504.5,1029.0 1507.6,1029.4 1510.7,1028.5 1513.7,1028.3 1516.6,1026.8 1519.4,1023.9 1522.3,1021.9 1525.2,1020.4 1528.2,1017.8 1531.3,1016.8 1534.7,1014.8 1538.3,1013.4 1542.1,1013.2 1545.8,1012.7 1549.2,1011.6 1552.4,1011.1 1555.0,1011.2 1557.2,1011.9 1559.2,1011.7 1561.3,1011.4 1563.6,1012.5 1566.5,1013.9 1569.9,1016.2 1573.8,1020.0 1577.9,1022.8 1582.2,1027.1 1586.6,1031.1 1591.0,1035.1 1595.5,1040.4 1600.1,1044.7 1604.9,1050.6 1609.7,1055.5 1614.5,1061.5 1619.2,1066.9 1623.9,1072.5 1628.6,1079.1 1633.3,1084.7 1638.0,1090.1 1642.7,1096.8 1647.4,1102.1 1652.1,1108.5 1656.8,1115.6 1661.5,1121.9 1666.1,1127.8 1670.8,1135.3 1675.5,1140.7 1680.2,1146.8 1684.9,1153.3 1689.6,1158.7 1694.3,1164.4 1699.0,1169.9 1703.7,1175.8 1708.4,1182.3 1713.1,1187.8 1717.8,1194.1 1722.4,1199.7 1727.1,1205.7 1731.8,1212.1 1736.6,1217.3 1741.5,1223.4 1746.3,1229.6 1751.1,1234.5 1755.7,1239.8 1760.0,1245.4 1763.9,1249.4 1767.5,1252.2 1770.9,1255.3 1774.3,1258.8 1777.6,1261.9 1781.0,1263.8 1784.4,1267.6 1787.8,1270.2 1791.2,1272.4 1794.6,1274.8 1798.3,1276.9 1802.2,1279.4 1806.5,1283.3 1811.1,1285.2 1815.8,1288.6 1820.7,1290.8 1825.5,1294.0 1830.3,1296.0 1835.1,1297.6 1839.9,1299.2 1844.8,1301.3 1849.6,1301.9 1854.2,1303.3 1858.5,1304.8 1862.5,1306.0 1866.2,1306.4 1869.8,1306.4 1873.2,1307.6 1876.6,1307.3 1880.0,1307.6 1883.1,1308.6 1885.7,1309.5 1888.2,1309.8 1891.1,1310.7 1894.9,1311.8 1900.0,1312.9 1906.0,1313.3 1912.5,1314.5 1919.8,1316.2 1928.4,1317.3 1938.5,1318.0 1950.4,1319.0 1964.8,1319.9 1981.5,1320.4 1999.8,1321.4 2018.8,1322.4 2037.8,1324.4 2056.0,1325.0 2074.0,1326.1 2092.5,1325.7 2111.0,1327.2 2128.9,1327.6 2146.0,1328.4 2161.5,1328.4 2174.2,1329.6 2184.1,1328.8 2193.1,1329.6 2202.9,1330.0 2215.2,1330.3 2231.8,1330.3 2255.4,1330.4 2285.1,1330.6 2317.3,1330.8 2348.5,1330.2 2375.3,1330.6 2394.0,1330.9" fill="none" stroke="#1400e6" stroke-width="7.4" stroke-linejoin="round" stroke-linecap="round" />
<polyline points="1395.8,1454.2 1396.3,1444.7 1397.1,1431.0 1398.0,1414.2 1398.9,1397.3 1400.0,1382.3 1401.0,1369.5 1402.0,1360.7 1402.9,1352.8 1403.9,1346.2 1405.1,1340.2 1406.4,1334.3 1408.0,1327.2 1409.9,1320.3 1411.9,1312.6 1414.2,1306.1 1416.7,1297.9 1419.4,1292.0 1422.2,1284.9 1425.3,1280.1 1428.6,1274.6 1432.1,1270.0 1435.7,1266.1 1439.5,1260.9 1443.3,1256.7 1447.3,1253.4 1451.4,1248.5 1455.7,1243.8 1459.9,1241.0 1464.1,1237.5 1468.0,1233.8 1471.8,1232.2 1475.5,1230.5 1479.2,1229.8 1482.7,1229.7 1485.9,1229.1 1489.0,1230.0 1491.7,1229.9 1494.0,1231.1 1496.2,1233.3 1498.3,1234.6 1500.5,1236.8 1503.0,1239.7 1505.7,1242.7 1508.5,1246.0 1511.4,1249.5 1514.4,1254.7 1517.5,1259.7 1520.7,1264.8 1524.0,1270.2 1527.5,1276.3 1531.0,1283.2 1534.6,1290.6 1538.2,1297.2 1541.8,1302.5 1545.3,1308.0 1548.8,1313.1 1552.3,1317.9 1555.8,1322.7 1559.4,1326.6 1563.0,1330.4 1566.8,1336.0 1570.9,1340.4 1575.0,1345.3 1578.9,1349.3 1582.6,1353.2 1585.8,1355.6 1588.4,1357.0 1590.6,1355.9 1592.5,1355.3 1594.3,1353.5 1596.1,1352.9 1598.0,1351.6 1600.1,1352.3 1602.1,1353.3 1604.2,1354.7 1606.3,1355.1 1608.3,1356.3 1610.4,1356.1 1612.5,1355.5 1614.6,1354.5 1616.7,1353.5 1618.8,1351.2 1620.8,1350.3 1622.8,1348.3 1624.7,1348.7 1626.4,1347.8 1628.2,1347.6 1629.9,1348.2 1631.6,1348.1 1633.3,1346.4 1635.0,1345.6 1636.6,1344.7 1638.2,1342.4 1639.8,1340.5 1641.7,1338.7 1643.9,1337.4 1646.4,1337.3 1649.1,1337.0 1652.0,1336.6 1655.1,1335.5 1658.3,1334.5 1661.5,1334.4 1664.9,1334.4 1668.5,1334.1 1672.3,1333.4 1676.0,1332.4 1679.5,1332.0 1682.6,1331.0 1685.3,1329.8 1687.7,1327.9 1689.8,1326.9 1691.9,1325.0 1694.1,1322.1 1696.6,1320.2 1699.3,1318.7 1702.2,1315.5 1705.2,1313.6 1708.2,1310.6 1711.2,1308.5 1714.2,1306.7 1717.1,1304.9 1720.1,1304.1 1723.0,1303.4 1725.9,1303.4 1728.9,1303.0 1731.8,1301.8 1734.8,1302.0 1737.8,1300.7 1740.8,1299.9 1743.8,1299.5 1746.7,1299.6 1749.4,1298.8 1752.0,1298.5 1754.4,1298.5 1756.7,1298.3 1758.9,1298.0 1761.2,1297.9 1763.5,1298.8 1765.9,1300.3 1768.2,1301.6 1770.6,1303.1 1772.9,1304.9 1775.3,1307.3 1777.6,1310.3 1779.9,1312.9 1782.3,1315.4 1784.6,1319.7 1786.9,1323.6 1789.3,1327.3 1791.6,1331.5 1793.9,1335.9 1796.3,1340.2 1798.6,1345.4 1801.0,1349.9 1803.3,1354.3 1805.7,1359.0 1808.0,1362.7 1810.3,1366.8 1812.5,1369.5 1814.8,1372.5 1817.2,1376.2 1819.8,1379.8 1822.5,1385.4 1825.4,1391.4 1828.4,1397.1 1831.4,1403.2 1834.4,1409.6 1837.4,1415.3 1840.3,1421.3 1843.3,1426.2 1846.2,1431.5 1849.1,1437.1 1852.1,1442.6 1855.0,1447.5 1858.0,1452.0 1861.0,1456.7 1864.0,1460.2 1867.0,1463.8 1869.9,1468.2 1872.6,1471.7 1875.1,1474.8 1877.6,1478.6 1879.9,1481.2 1882.1,1483.9 1884.3,1486.6 1886.6,1489.9 1888.8,1491.1 1891.1,1493.7 1893.2,1495.5 1895.4,1497.3 1897.7,1499.5 1900.0,1501.4 1902.2,1504.4 1904.1,1506.3 1906.1,1508.9 1908.4,1510.6 1911.3,1513.4 1915.0,1515.9 1919.5,1518.6 1924.7,1520.4 1930.3,1523.1 1936.6,1526.0 1943.3,1528.3 1950.4,1529.6 1958.0,1531.7 1966.0,1533.6 1974.5,1534.7 1983.5,1536.4 1993.0,1537.6 2003.0,1539.3 2013.5,1540.0 2024.5,1541.3 2036.0,1542.1 2048.0,1543.6 2060.5,1544.0 2073.5,1545.0 2087.0,1545.5 2100.9,1546.0 2115.3,1546.2 2130.2,1546.6 2145.6,1547.3 2161.5,1547.2 2178.5,1547.1 2196.7,1548.1 2215.3,1547.5 2233.8,1548.3 2251.2,1548.0 2267.0,1547.9 2280.9,1548.7 2293.6,1549.1 2305.3,1548.8 2316.3,1548.9 2326.9,1549.9 2337.4,1550.4 2348.3,1550.4 2359.4,1550.8 2370.1,1550.5 2379.8,1550.9 2388.0,1550.6 2394.0,1550.9" fill="none" stroke="#14a6f2" stroke-width="7.4" stroke-linejoin="round" stroke-linecap="round" />
<polyline points="1395.8,1629.6 1396.0,1621.9 1396.1,1610.7 1396.4,1597.7 1396.7,1582.8 1397.1,1568.7 1397.6,1555.6 1398.3,1543.6 1399.0,1531.8 1399.9,1519.1 1400.9,1507.6 1401.9,1495.9 1402.9,1485.3 1404.0,1475.2 1405.1,1465.7 1406.3,1456.1 1407.6,1446.8 1408.8,1439.2 1410.0,1432.4 1411.2,1427.6 1412.3,1422.7 1413.4,1418.9 1414.5,1416.1 1415.7,1414.2 1417.0,1413.8 1418.3,1414.5 1419.6,1416.0 1421.0,1419.8 1422.5,1423.5 1424.0,1428.3 1425.7,1432.9 1427.6,1437.9 1429.7,1443.7 1431.8,1450.2 1434.0,1456.9 1436.1,1463.8 1438.0,1471.8 1439.7,1479.4 1441.3,1487.6 1442.7,1495.6 1444.1,1504.0 1445.5,1512.6 1446.8,1520.3 1448.1,1529.2 1449.2,1537.3 1450.3,1545.5 1451.5,1553.8 1452.6,1562.2 1453.9,1569.8 1455.2,1577.5 1456.6,1585.1 1458.0,1592.1 1459.4,1598.8 1461.0,1605.8 1462.7,1611.9 1464.5,1618.0 1466.5,1623.8 1468.6,1629.6 1470.8,1634.5 1472.9,1639.8 1475.0,1644.4 1477.0,1647.7 1479.0,1651.6 1480.9,1655.0 1482.9,1656.6 1485.1,1658.5 1487.3,1660.0 1489.7,1659.6 1492.2,1657.9 1494.8,1655.0 1497.5,1652.5 1500.2,1650.2 1503.0,1647.8 1505.9,1645.3 1508.9,1641.9 1511.9,1639.8 1515.0,1636.8 1517.9,1635.2 1520.7,1633.6 1523.3,1634.4 1525.7,1634.6 1528.0,1635.9 1530.2,1637.1 1532.5,1639.7 1534.8,1642.1 1537.1,1645.1 1539.5,1648.5 1541.8,1652.9 1544.2,1656.8 1546.5,1660.9 1548.9,1664.7 1551.2,1668.9 1553.5,1672.1 1555.8,1676.0 1558.2,1679.4 1560.6,1683.3 1563.0,1686.1 1565.5,1688.6 1568.1,1690.5 1570.8,1693.0 1573.5,1694.6 1576.1,1695.6 1578.8,1696.1 1581.4,1697.0 1584.0,1695.2 1586.6,1694.0 1589.2,1692.4 1591.9,1691.1 1594.6,1689.2 1597.5,1688.2 1600.7,1686.6 1603.8,1685.6 1606.9,1683.4 1609.8,1682.5 1612.2,1681.9 1614.1,1681.9 1615.7,1681.3 1616.9,1681.3 1618.1,1681.8 1619.4,1681.8 1621.0,1682.1 1622.7,1683.5 1624.5,1685.2 1626.4,1686.4 1628.4,1687.4 1630.7,1689.0 1633.3,1689.9 1636.3,1689.7 1639.6,1690.1 1643.1,1689.7 1646.8,1689.3 1650.6,1689.0 1654.4,1688.6 1658.4,1688.3 1662.6,1687.4 1666.9,1687.1 1671.2,1686.2 1675.3,1686.6 1679.0,1686.6 1682.3,1686.6 1685.4,1688.3 1688.2,1688.9 1691.0,1690.6 1693.7,1692.3 1696.6,1693.8 1699.5,1695.8 1702.5,1698.3 1705.4,1700.5 1708.3,1703.8 1711.3,1705.4 1714.2,1708.3 1717.1,1709.7 1719.9,1711.6 1722.8,1713.4 1725.7,1714.7 1728.7,1716.3 1731.8,1717.9 1735.0,1719.1 1738.2,1720.6 1741.5,1721.6 1745.0,1721.5 1748.8,1722.8 1753.0,1723.1 1757.6,1724.6 1762.6,1724.8 1767.9,1726.1 1773.4,1726.3 1779.0,1726.4 1784.6,1726.5 1790.3,1726.8 1796.1,1727.3 1802.0,1726.3 1807.9,1726.3 1813.9,1725.8 1819.8,1725.3 1825.6,1725.4 1831.2,1724.3 1836.8,1724.3 1842.5,1723.7 1848.6,1723.5 1855.0,1722.5 1861.9,1722.4 1869.2,1721.3 1876.8,1720.9 1884.5,1720.4 1892.3,1720.2 1900.0,1719.9 1907.7,1718.9 1915.5,1718.8 1923.4,1719.1 1931.2,1719.4 1939.1,1719.3 1947.0,1719.3 1954.7,1720.4 1962.3,1720.2 1969.8,1720.6 1977.6,1721.3 1985.6,1722.1 1994.2,1723.6 2003.3,1724.0 2013.0,1725.7 2023.0,1727.0 2033.1,1728.2 2043.2,1729.1 2053.2,1729.6 2063.1,1730.6 2073.0,1731.4 2083.0,1731.8 2092.9,1731.9 2102.7,1732.8 2112.3,1732.5 2121.0,1733.1 2128.8,1734.1 2136.5,1733.8 2144.9,1733.8 2154.9,1734.5 2167.4,1734.4 2182.8,1734.0 2200.6,1734.0 2220.0,1734.3 2240.2,1734.3 2260.5,1734.9 2280.0,1734.1 2300.2,1734.8 2322.1,1734.8 2344.0,1734.3 2364.4,1734.9 2381.6,1734.7 2394.0,1734.4" fill="none" stroke="#16de16" stroke-width="7.4" stroke-linejoin="round" stroke-linecap="round" />
<polyline points="1395.8,1794.7 1396.0,1788.0 1396.1,1778.0 1396.4,1766.4 1396.7,1753.5 1397.1,1741.7 1397.6,1732.0 1398.2,1723.5 1399.0,1715.3 1399.8,1708.3 1400.7,1701.4 1401.8,1695.5 1402.9,1689.3 1404.1,1684.3 1405.2,1680.4 1406.5,1676.1 1408.0,1672.5 1409.7,1669.8 1411.7,1666.8 1414.1,1663.7 1417.0,1661.6 1420.1,1659.6 1423.2,1657.5 1426.4,1656.8 1429.3,1655.9 1432.1,1656.3 1434.9,1656.9 1437.6,1658.4 1440.2,1660.8 1442.7,1662.5 1445.0,1665.4 1447.0,1667.6 1448.8,1670.8 1450.5,1674.4 1452.1,1677.9 1453.8,1681.4 1455.6,1686.1 1457.5,1690.8 1459.5,1695.6 1461.6,1700.9 1463.7,1707.1 1465.8,1712.4 1468.0,1717.6 1470.2,1723.1 1472.5,1728.4 1474.9,1734.3 1477.3,1739.4 1479.6,1744.2 1482.0,1749.7 1484.2,1753.5 1486.3,1757.8 1488.3,1761.5 1490.5,1766.0 1493.0,1769.5 1496.0,1774.0 1499.4,1778.2 1503.0,1783.3 1507.0,1788.2 1511.3,1793.0 1515.8,1797.6 1520.7,1802.2 1526.0,1806.5 1531.7,1811.0 1537.7,1814.8 1543.9,1819.2 1550.0,1822.9 1556.0,1827.1 1561.8,1830.5 1567.7,1832.8 1573.5,1835.8 1579.3,1839.0 1585.2,1841.6 1591.0,1844.0 1596.9,1847.6 1603.0,1850.9 1609.1,1853.6 1615.1,1856.5 1620.8,1859.5 1626.3,1862.4 1631.4,1863.9 1636.3,1865.8 1641.0,1867.3 1645.6,1869.1 1650.0,1870.7 1654.4,1872.4 1658.8,1874.7 1663.1,1876.8 1667.4,1879.6 1671.4,1882.6 1675.3,1884.8 1679.0,1886.8 1682.3,1889.4 1685.3,1890.9 1688.0,1892.6 1690.7,1894.3 1693.5,1896.4 1696.6,1898.8 1699.9,1901.5 1703.4,1905.0 1706.9,1907.7 1710.5,1910.8 1714.1,1914.0 1717.7,1916.8 1721.1,1918.5 1724.5,1920.7 1727.9,1922.0 1731.3,1923.7 1735.0,1925.3 1738.9,1927.4 1743.1,1929.2 1747.5,1931.0 1752.1,1933.4 1756.9,1935.2 1761.8,1937.3 1767.0,1939.8 1772.5,1941.5 1778.2,1943.7 1784.2,1945.3 1790.2,1947.8 1796.3,1949.3 1802.2,1950.5 1808.0,1952.3 1813.8,1953.0 1819.6,1953.8 1825.4,1954.5 1831.3,1955.1 1837.4,1955.8 1843.4,1956.7 1849.3,1956.7 1855.2,1957.1 1861.5,1957.6 1868.3,1957.9 1876.0,1957.9 1884.7,1958.4 1894.2,1958.1 1904.3,1958.2 1914.7,1958.3 1925.1,1957.9 1935.2,1957.8 1945.0,1957.4 1954.9,1957.4 1964.7,1956.5 1974.5,1956.3 1984.4,1955.3 1994.2,1954.9 2004.1,1954.1 2014.2,1953.0 2024.2,1952.5 2034.1,1951.2 2043.8,1950.1 2053.2,1948.6 2062.2,1947.8 2071.0,1946.4 2079.5,1945.3 2087.9,1944.4 2096.2,1943.3 2104.4,1941.8 2112.8,1941.8 2121.4,1941.6 2130.0,1941.1 2138.1,1940.6 2145.4,1941.2 2151.6,1940.9 2156.3,1941.6 2159.6,1941.8 2162.2,1942.2 2164.6,1942.8 2167.4,1942.4 2171.3,1943.2 2176.4,1942.8 2182.4,1942.3 2188.8,1942.1 2195.2,1941.9 2201.3,1941.4 2206.7,1942.2 2211.3,1943.4 2215.4,1944.5 2219.2,1946.1 2222.9,1947.6 2226.5,1949.9 2230.3,1950.8 2234.1,1952.5 2237.8,1953.8 2241.4,1954.5 2245.2,1956.6 2249.4,1957.3 2254.0,1959.2 2259.2,1960.5 2264.8,1962.0 2270.7,1963.4 2276.9,1964.5 2283.1,1966.0 2289.4,1967.3 2295.7,1969.1 2302.2,1969.7 2308.8,1971.1 2315.5,1972.9 2322.1,1973.9 2328.7,1974.7 2335.4,1975.5 2342.3,1975.6 2349.2,1976.2 2355.9,1976.1 2362.2,1976.7 2368.0,1976.2 2373.4,1976.6 2378.6,1976.7 2383.5,1976.9 2387.8,1976.5 2391.3,1976.7 2394.0,1976.9" fill="none" stroke="#fa8c14" stroke-width="7.0" stroke-linejoin="round" stroke-linecap="round" />
<polyline points="1395.8,1880.1 1395.9,1872.1 1396.0,1862.8 1396.2,1850.6 1396.4,1839.4 1396.6,1827.6 1396.9,1820.2 1397.2,1814.0 1397.5,1809.4 1397.8,1805.9 1398.2,1802.5 1398.7,1801.0 1399.4,1800.6 1400.3,1800.8 1401.3,1802.9 1402.5,1806.0 1403.8,1810.2 1405.1,1813.7 1406.4,1816.6 1407.7,1818.7 1409.0,1822.2 1410.4,1824.6 1411.8,1826.9 1413.4,1829.1 1415.2,1830.2 1417.2,1830.1 1419.5,1830.0 1421.9,1828.6 1424.4,1827.4 1426.9,1826.4 1429.3,1825.1 1431.7,1824.1 1434.2,1823.7 1436.6,1823.0 1439.0,1821.8 1441.3,1821.9 1443.3,1821.0 1445.0,1821.5 1446.5,1822.0 1447.8,1823.6 1449.0,1824.6 1450.4,1826.4 1452.0,1828.4 1453.8,1831.8 1455.7,1836.2 1457.6,1839.9 1459.7,1844.7 1462.0,1849.6 1464.4,1855.0 1467.1,1860.4 1470.0,1865.6 1473.1,1871.0 1476.2,1876.7 1479.2,1881.6 1482.0,1887.0 1484.4,1890.5 1486.5,1894.0 1488.6,1897.4 1490.7,1901.1 1493.1,1903.9 1496.0,1908.1 1499.6,1911.5 1503.7,1915.9 1508.1,1919.8 1512.6,1925.0 1516.9,1928.9 1520.7,1932.4 1524.0,1935.4 1527.1,1938.9 1529.9,1941.6 1532.7,1944.9 1535.4,1947.7 1538.3,1950.2 1541.2,1952.6 1544.1,1955.1 1546.9,1958.7 1549.9,1961.4 1552.9,1963.1 1556.0,1965.8 1559.2,1967.7 1562.5,1969.9 1565.9,1970.4 1569.4,1972.0 1573.1,1974.5 1577.0,1976.5 1581.3,1979.1 1585.8,1982.7 1590.5,1985.9 1595.4,1989.5 1600.2,1992.4 1605.0,1995.3 1609.7,1997.8 1614.4,2000.5 1619.1,2003.0 1623.9,2004.9 1628.6,2007.2 1633.3,2009.9 1638.1,2012.8 1643.0,2015.7 1647.8,2018.4 1652.6,2022.0 1657.2,2025.0 1661.5,2027.8 1665.3,2030.1 1668.8,2031.3 1672.1,2033.8 1675.3,2035.5 1678.8,2038.0 1682.6,2041.0 1686.9,2044.4 1691.5,2049.0 1696.3,2054.5 1701.2,2058.7 1706.1,2063.7 1710.8,2067.2 1715.3,2069.8 1719.6,2072.2 1723.9,2074.6 1728.4,2076.5 1733.1,2078.0 1738.4,2079.6 1744.3,2081.6 1750.6,2084.2 1757.3,2086.0 1764.2,2087.1 1771.0,2089.5 1777.7,2090.7 1784.4,2091.7 1791.2,2093.4 1798.1,2093.7 1804.8,2094.5 1811.1,2095.6 1817.0,2096.7 1822.0,2097.3 1826.2,2097.9 1830.1,2098.9 1834.1,2098.8 1838.8,2099.5 1844.6,2098.8 1851.8,2099.5 1859.9,2098.7 1868.7,2098.8 1877.9,2098.5 1887.0,2097.6 1895.8,2096.6 1904.6,2095.2 1913.6,2093.7 1922.6,2091.4 1931.4,2089.4 1939.6,2088.0 1947.0,2086.7 1953.3,2085.6 1958.8,2085.8 1963.7,2085.8 1968.4,2085.5 1973.2,2085.7 1978.4,2085.0 1983.8,2083.2 1989.1,2081.9 1994.4,2080.0 2000.2,2077.5 2006.6,2075.0 2013.9,2072.7 2022.7,2070.3 2032.8,2068.2 2043.7,2066.6 2054.4,2063.2 2064.4,2061.7 2072.9,2059.2 2079.9,2056.9 2085.9,2053.7 2091.1,2051.8 2095.8,2049.0 2100.2,2047.3 2104.4,2045.7 2108.1,2044.2 2110.9,2043.0 2113.5,2042.5 2116.1,2041.2 2119.5,2040.6 2124.0,2041.0 2130.1,2040.0 2137.6,2040.5 2145.7,2040.8 2153.8,2041.6 2161.3,2041.3 2167.4,2041.5 2172.1,2041.1 2175.8,2040.5 2178.8,2039.9 2181.5,2039.2 2184.1,2038.8 2187.0,2038.2 2190.1,2037.9 2193.0,2037.9 2196.0,2037.7 2198.9,2036.8 2201.8,2037.8 2204.7,2037.8 2207.6,2039.7 2210.4,2042.3 2213.2,2044.1 2216.1,2047.3 2219.1,2050.6 2222.4,2053.3 2225.9,2056.4 2229.5,2059.5 2233.3,2063.6 2237.3,2067.4 2241.5,2071.5 2246.0,2074.8 2250.8,2078.9 2255.9,2082.3 2261.3,2086.3 2266.7,2090.1 2272.2,2093.0 2277.5,2097.0 2282.8,2099.3 2288.0,2101.9 2293.2,2104.7 2298.5,2106.5 2303.8,2108.5 2309.0,2110.0 2314.3,2111.7 2319.6,2113.8 2325.0,2114.9 2330.3,2116.3 2335.5,2117.4 2340.5,2118.4 2345.3,2118.8 2350.0,2119.9 2354.6,2119.9 2359.1,2120.0 2363.5,2121.0 2368.0,2121.4 2372.7,2121.0 2377.7,2122.0 2382.7,2122.1 2387.3,2121.9 2391.2,2122.4 2394.0,2122.9" fill="none" stroke="#f41414" stroke-width="7.0" stroke-linejoin="round" stroke-linecap="round" />
<line x1="2075" y1="1004.6" x2="2171" y2="1004.6" stroke="#1400e6" stroke-width="6.5" stroke-linecap="round"/>
<text x="2182.5" y="1017.1" font-size="39.5" font-weight="bold" text-anchor="start" fill="#111" textLength="158">3,4-CDs</text>
<line x1="2075" y1="1059" x2="2171" y2="1059" stroke="#14a6f2" stroke-width="6.5" stroke-linecap="round"/>
<text x="2182.5" y="1071.5" font-size="39.5" font-weight="bold" text-anchor="start" fill="#111" textLength="158">2,5-CDs</text>
<line x1="2075" y1="1112" x2="2171" y2="1112" stroke="#16de16" stroke-width="6.5" stroke-linecap="round"/>
<text x="2182.5" y="1124.5" font-size="39.5" font-weight="bold" text-anchor="start" fill="#111" textLength="158">3,5-CDs</text>
<line x1="2075" y1="1166.4" x2="2171" y2="1166.4" stroke="#fa8c14" stroke-width="6.5" stroke-linecap="round"/>
<text x="2182.5" y="1178.9" font-size="39.5" font-weight="bold" text-anchor="start" fill="#111" textLength="158">2,6-CDs</text>
<line x1="2075" y1="1221.3" x2="2171" y2="1221.3" stroke="#f41414" stroke-width="6.5" stroke-linecap="round"/>
<text x="2182.5" y="1233.8" font-size="39.5" font-weight="bold" text-anchor="start" fill="#111" textLength="158">2,4-CDs</text>
</svg>
</body></html>
